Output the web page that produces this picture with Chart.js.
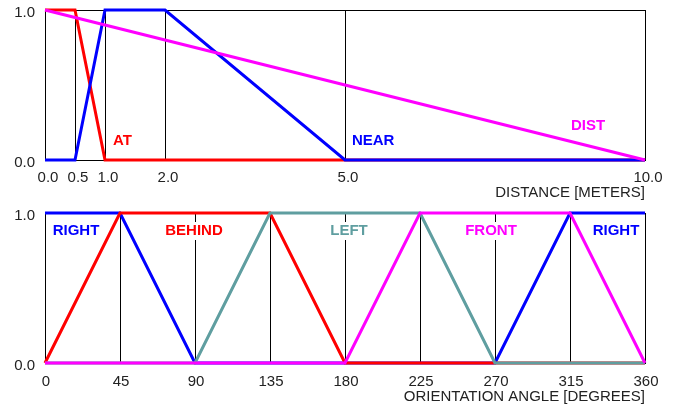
<!DOCTYPE html>
<html>
<head>
<meta charset="utf-8">
<script src="https://cdn.jsdelivr.net/npm/chart.js@4/dist/chart.umd.min.js"></script>
<style>
  body { margin: 0; background: #fff; }
  #wrap { position: relative; width: 681px; height: 406px; }
  #top { position: absolute; left: 0; top: 0; }
  #bottom { position: absolute; left: 0; top: 200px; }
</style>
</head>
<body>
<div id="wrap">
  <canvas id="top" width="681" height="200"></canvas>
  <canvas id="bottom" width="681" height="206"></canvas>
</div>
<script>
// distance chart
const distTicks = [0, 0.5, 1, 2, 5, 10];
const atX = [0, 0.5, 1, 10];
const atY = [1, 1, 0, 0];
const nearX = [0, 0.5, 1, 2, 5, 10];
const nearY = [0, 0, 1, 1, 0, 0];
const distX = [0, 10];
const distY = [1, 0];
const distNames = ["AT", "NEAR", "DIST"];

// orientation chart
const angleTicks = [0, 45, 90, 135, 180, 225, 270, 315, 360];
const rightX = [0, 45, 90, 270, 315, 360];
const rightY = [1, 1, 0, 0, 1, 1];
const behindX = [0, 45, 135, 180, 360];
const behindY = [0, 1, 1, 0, 0];
const leftX = [0, 90, 135, 225, 270, 360];
const leftY = [0, 0, 1, 1, 0, 0];
const frontX = [0, 180, 225, 315, 360];
const frontY = [0, 0, 1, 1, 0];
const angleNames = ["RIGHT", "BEHIND", "LEFT", "FRONT", "RIGHT"];

const yTicks = [0, 1];

const RED = "#ff0000", BLUE = "#0000ff", MAGENTA = "#ff00ff", TEAL = "#5f9ea0";
const TXT = "#222";
const FONT = "Arial, 'Liberation Sans', sans-serif";

const pts = (xs, ys) => xs.map((x, i) => ({ x: x, y: ys[i] }));

function line(label, xs, ys, color) {
  return {
    label: label,
    data: pts(xs, ys),
    borderColor: color,
    borderWidth: 3,
    pointRadius: 0,
    tension: 0,
    clip: false,
    fill: false
  };
}

// text labels in data coordinates, with white box behind
const textLabels = {
  id: "textLabels",
  beforeDatasetsDraw(chart, args, opts) {
    const ctx = chart.ctx;
    const xs = chart.scales.x, ys = chart.scales.y;
    ctx.save();
    ctx.font = "bold 15px " + FONT;
    ctx.textAlign = "center";
    ctx.textBaseline = "middle";
    (opts.items || []).forEach(it => {
      const px = xs.getPixelForValue(it.x);
      const py = ys.getPixelForValue(it.y);
      const w = ctx.measureText(it.text).width;
      ctx.fillStyle = "#fff";
      ctx.fillRect(px - w / 2 - 2, py - 9, w + 4, 18);
      ctx.fillStyle = it.color;
      ctx.fillText(it.text, px, py);
    });
    ctx.restore();
  }
};

function noPad(s) {
  s.paddingTop = 0; s.paddingBottom = 0; s.paddingLeft = 0; s.paddingRight = 0;
}

function scalesFor(ticks, fmt, title, xHeight, tickPad, titlePad, xOffset) {
  return {
    x: {
      type: "linear",
      min: ticks[0],
      max: ticks[ticks.length - 1],
      afterBuildTicks: s => { s.ticks = ticks.map(v => ({ value: v })); },
      afterFit: s => { s.height = xHeight; noPad(s); },
      grid: { color: "#000", lineWidth: 1, drawTicks: false },
      border: { display: true, color: "#000", width: 1 },
      ticks: {
        autoSkip: false, maxRotation: 0, padding: tickPad, labelOffset: xOffset,
        color: TXT, font: { family: FONT, size: 15 },
        callback: v => fmt(v)
      },
      title: {
        display: true, text: title, align: "end", color: TXT,
        font: { family: FONT, size: 15, lineHeight: 1 },
        padding: { top: 0, bottom: titlePad }
      }
    },
    y: {
      type: "linear",
      min: 0,
      max: 1,
      afterBuildTicks: s => { s.ticks = yTicks.map(v => ({ value: v })); },
      afterFit: s => { s.width = 45; noPad(s); },
      grid: { color: "#000", lineWidth: 1, drawTicks: false },
      border: { display: true, color: "#000", width: 1 },
      ticks: {
        padding: 10, labelOffset: 3, color: TXT,
        font: { family: FONT, size: 15 },
        callback: v => v.toFixed(1)
      }
    }
  };
}

new Chart(document.getElementById("top"), {
  type: "line",
  data: {
    datasets: [
      line(distNames[2], distX, distY, MAGENTA),
      line(distNames[1], nearX, nearY, BLUE),
      line(distNames[0], atX, atY, RED)
    ]
  },
  options: {
    responsive: false,
    animation: false,
    layout: { padding: { left: 0, right: 36, top: 10, bottom: 0 } },
    scales: scalesFor(distTicks, v => v.toFixed(1), "DISTANCE [METERS]", 40, 9, 0, 3),
    plugins: {
      legend: { display: false },
      tooltip: { enabled: false },
      textLabels: {
        items: [
          { text: distNames[0], x: 1.29, y: 0.125, color: RED },
          { text: distNames[1], x: 5.47, y: 0.125, color: BLUE },
          { text: distNames[2], x: 9.05, y: 0.23, color: MAGENTA }
        ]
      }
    }
  },
  plugins: [textLabels]
});

new Chart(document.getElementById("bottom"), {
  type: "line",
  data: {
    datasets: [
      line(angleNames[3], frontX, frontY, MAGENTA),
      line(angleNames[2], leftX, leftY, TEAL),
      line(angleNames[1], behindX, behindY, RED),
      line(angleNames[0], rightX, rightY, BLUE)
    ]
  },
  options: {
    responsive: false,
    animation: false,
    layout: { padding: { left: 0, right: 36, top: 13, bottom: 0 } },
    scales: scalesFor(angleTicks, v => String(v), "ORIENTATION ANGLE [DEGREES]", 43, 10, 2, 1),
    plugins: {
      legend: { display: false },
      tooltip: { enabled: false },
      textLabels: {
        items: [
          { text: angleNames[0], x: 18.6, y: 0.88, color: BLUE },
          { text: angleNames[1], x: 89.4, y: 0.88, color: RED },
          { text: angleNames[2], x: 182.4, y: 0.88, color: TEAL },
          { text: angleNames[3], x: 267.6, y: 0.88, color: MAGENTA },
          { text: angleNames[4], x: 342.6, y: 0.88, color: BLUE }
        ]
      }
    }
  },
  plugins: [textLabels]
});
</script>
</body>
</html>
